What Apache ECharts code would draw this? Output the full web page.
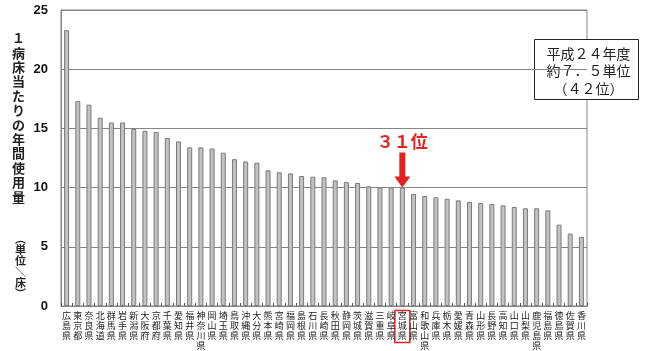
<!DOCTYPE html>
<html>
<head>
<meta charset="utf-8">
<script src="https://cdn.jsdelivr.net/npm/echarts@6/dist/echarts.min.js"></script>
<style>
  html, body { margin: 0; padding: 0; background: #fff; }
  #chart { width: 655px; height: 351px; }
</style>
</head>
<body>
<div id="chart"></div>
<script>
// Prefectures ranked by annual usage per hospital bed
const prefectures = ['広島県','東京都','奈良県','北海道','群馬県','岩手県','新潟県','大阪府','京都府','千葉県',
  '愛知県','福井県','神奈川県','岡山県','埼玉県','鳥取県','沖縄県','大分県','熊本県','宮崎県',
  '福岡県','島根県','石川県','長崎県','秋田県','静岡県','茨城県','滋賀県','三重県','岐阜県',
  '宮城県','富山県','和歌山県','兵庫県','栃木県','愛媛県','青森県','山形県','長野県','高知県',
  '山口県','山梨県','鹿児島県','福島県','徳島県','佐賀県','香川県'];
const usagePerBed = [23.3, 17.3, 17.0, 15.9, 15.5, 15.5, 14.95, 14.8, 14.7, 14.2,
  13.9, 13.4, 13.4, 13.3, 12.95, 12.4, 12.2, 12.1, 11.46, 11.29,
  11.2, 10.98, 10.92, 10.87, 10.61, 10.47, 10.39, 10.11, 10.02, 10.02,
  10.0, 9.46, 9.29, 9.18, 9.05, 8.92, 8.78, 8.7, 8.61, 8.5,
  8.36, 8.25, 8.25, 8.08, 6.87, 6.11, 5.83];
const yTicks = [0, 5, 10, 15, 20, 25];
const highlightPref = '宮城県';
const highlightRank = '３１位';
const axisTitle = '１病床当たりの年間使用量';
const axisUnit = '︵単位＼床︶';
const noteLines = ['平成２４年度', '約７．５単位', '（４２位）'];

const chart = echarts.init(document.getElementById('chart'), null, { renderer: 'canvas' });
const hiIndex = prefectures.indexOf(highlightPref);

const option = {
  backgroundColor: '#fff',
  animation: false,
  grid: { left: 61, right: 68, top: 10, bottom: 45, show: true, borderColor: '#858585', borderWidth: 1, containLabel: false },
  xAxis: {
    type: 'category',
    data: prefectures,
    axisLine: { show: true, lineStyle: { color: '#858585', width: 1 } },
    axisTick: { show: true, inside: true, length: 3, lineStyle: { color: '#555' } },
    axisLabel: {
      interval: 0,
      margin: 5,
      fontFamily: 'Noto Sans CJK JP',
      fontSize: 9,
      lineHeight: 10,
      color: '#222',
      formatter: v => v.split('').join('\n')
    },
    splitLine: { show: false }
  },
  yAxis: {
    type: 'value',
    min: yTicks[0],
    max: yTicks[yTicks.length - 1],
    interval: 5,
    axisLine: { show: true, lineStyle: { color: '#858585' } },
    axisTick: { show: false },
    axisLabel: { margin: 13, fontFamily: 'Liberation Sans', fontWeight: 'bold', fontSize: 13, color: '#111' },
    splitLine: { show: true, lineStyle: { color: '#858585', width: 1 } }
  },
  series: [{
    type: 'bar',
    data: usagePerBed,
    barWidth: 5,
    itemStyle: { color: '#c2c2c2', borderColor: '#7a7a7a', borderWidth: 1 },
    markPoint: {
      silent: true,
      data: [{
        coord: [hiIndex, usagePerBed[hiIndex]],
        symbol: 'path://M5,0 L11,0 L11,24 L16,24 L8,35 L0,24 L5,24 Z',
        symbolSize: [16, 35],
        symbolOffset: [0, '-50%'],
        itemStyle: { color: '#e8201f' },
        label: {
          show: true,
          position: 'top',
          distance: 3,
          formatter: highlightRank,
          color: '#e8201f',
          fontFamily: 'Noto Sans CJK JP',
          fontWeight: 'bold',
          fontSize: 17
        }
      }]
    }
  }],
  graphic: [
    {
      type: 'text',
      left: 12, top: 31,
      style: {
        text: axisTitle.split('').join('\n'),
        font: 'bold 13px "Noto Sans CJK JP"',
        lineHeight: 14.4,
        fill: '#222',
        align: 'center'
      }
    },
    {
      type: 'text',
      left: 15, top: 233,
      style: {
        text: axisUnit.split('').join('\n'),
        font: 'bold 11px "Noto Sans CJK JP"',
        lineHeight: 11,
        fill: '#222',
        align: 'center'
      }
    },
    {
      type: 'group',
      left: 534, top: 39,
      children: [
        { type: 'rect', shape: { x: 0, y: 0, width: 104, height: 60 }, style: { fill: '#fff', stroke: '#222', lineWidth: 1 } },
        {
          type: 'text', x: 54, y: 5,
          style: {
            text: noteLines.join('\n'),
            font: '14px "Noto Sans CJK JP"',
            lineHeight: 17.5,
            fill: '#222',
            align: 'center'
          }
        }
      ]
    }
  ]
};
chart.setOption(option);

// Frame around the highlighted prefecture name, placed from the axis scale
const hx = chart.convertToPixel({ xAxisIndex: 0 }, hiIndex);
const y0 = chart.convertToPixel({ yAxisIndex: 0 }, 0);
chart.setOption({
  graphic: option.graphic.concat([{
    type: 'rect',
    shape: { x: hx - 7.5, y: y0 + 4.5, width: 15, height: 32 },
    style: { fill: 'none', stroke: '#e8201f', lineWidth: 1.5 }
  }])
});
</script>
</body>
</html>
